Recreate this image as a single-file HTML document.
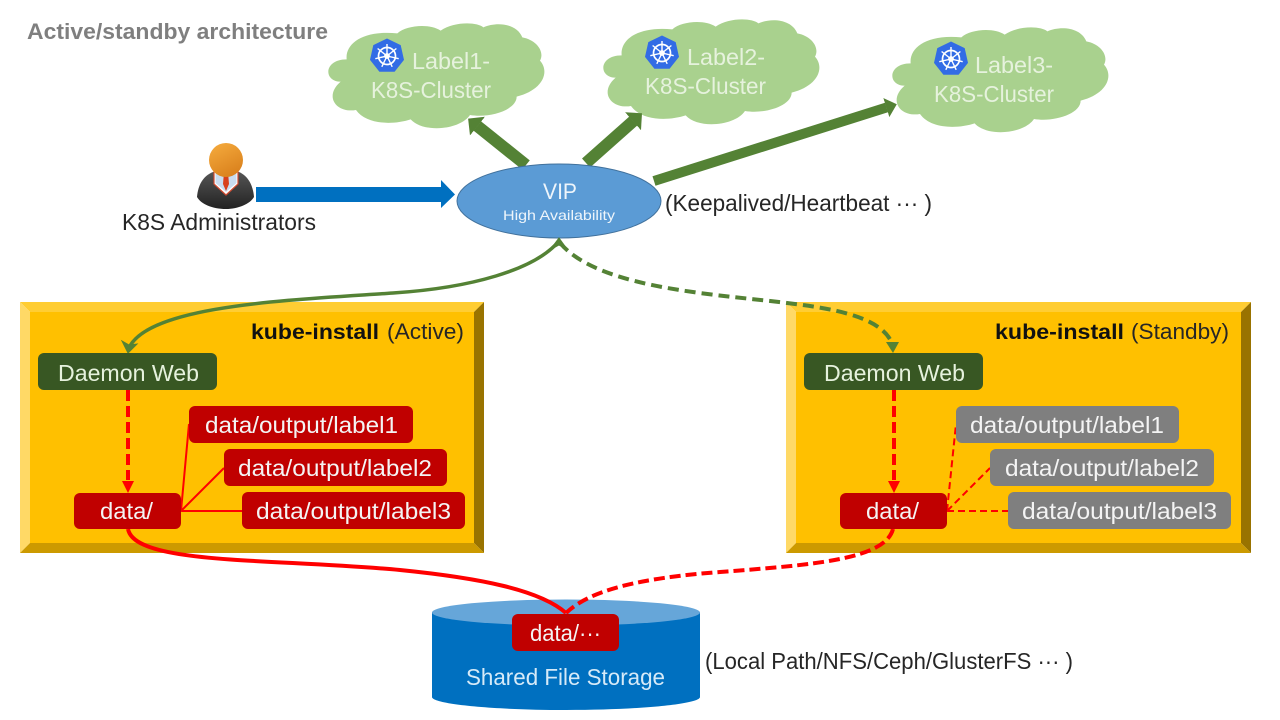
<!DOCTYPE html>
<html><head><meta charset="utf-8"><style>
html,body{margin:0;padding:0;background:#fff;width:1280px;height:720px;overflow:hidden}
svg{display:block}
text{font-family:"Liberation Sans","Noto Sans CJK SC",sans-serif;font-size:23px}
.w{fill:#f4f4f4}
.c{fill:#e6f2dd}
.k{fill:#262626}
</style></head><body>
<svg width="1280" height="720" viewBox="0 0 1280 720" xmlns="http://www.w3.org/2000/svg">
<defs>
<linearGradient id="hg" x1="0.2" y1="0" x2="0.7" y2="1"><stop offset="0" stop-color="#f4a93c"/><stop offset="1" stop-color="#d9801c"/></linearGradient>
<linearGradient id="bg" x1="0" y1="0" x2="0" y2="1"><stop offset="0" stop-color="#555"/><stop offset="1" stop-color="#222"/></linearGradient>
<marker id="gh" viewBox="0 0 2 2" markerWidth="2" markerHeight="2" refX="0.02" refY="1" orient="auto"><path d="M0,0L1,1L0,2Z" fill="#548235"/></marker>
<marker id="gh3" viewBox="0 0 2 2" markerWidth="2" markerHeight="2" refX="0.02" refY="1" orient="auto"><path d="M0,0L1.1,1L0,2Z" fill="#548235"/></marker>
<g id="cloud"><path transform="translate(320,0) scale(.3333)" fill="#a9d18e" d="M62,245C10,245 10,178 80,178C75,130 130,90 232,100C260,75 330,70 362,92C400,65 470,65 490,82C530,65 590,70 607,112C650,120 675,155 660,182C690,215 670,270 590,290C590,330 510,355 450,345C420,390 310,400 272,358C220,375 140,375 108,330C50,340 10,290 62,245Z"/></g>
<g id="k8s">
<polygon points="0,-17.500 13.700,-10.900 17,3.900 7.600,15.800 -7.600,15.800 -17,3.900 -13.700,-10.900" fill="#326ce5"/>
<g stroke="#fff" fill="none"><circle r="8.500" stroke-width="1.700"/><circle r="2.200" stroke-width="1.400"/>
<path stroke-width="1.400" d="M0,0L0,-12M0,0L9.400,-7.500M0,0L11.700,2.700M0,0L5.200,10.800M0,0L-5.200,10.800M0,0L-11.700,2.700M0,0L-9.400,-7.500"/></g>
</g>
</defs>

<text x="27" y="39" fill="#7f7f7f" font-weight="bold" style="font-size:22px" textLength="301" lengthAdjust="spacingAndGlyphs">Active/standby architecture</text>

<!-- clouds -->
<use href="#cloud"/>
<use href="#cloud" transform="translate(275,-4)"/>
<use href="#cloud" transform="translate(564,4)"/>
<use href="#k8s" transform="translate(387,56)"/>
<use href="#k8s" transform="translate(662,53)"/>
<use href="#k8s" transform="translate(951,59)"/>
<text class="c" x="412" y="69" textLength="78" lengthAdjust="spacingAndGlyphs">Label1-</text>
<text class="c" x="371" y="98" textLength="120" lengthAdjust="spacingAndGlyphs">K8S-Cluster</text>
<text class="c" x="687" y="65" textLength="78" lengthAdjust="spacingAndGlyphs">Label2-</text>
<text class="c" x="645" y="94" textLength="121" lengthAdjust="spacingAndGlyphs">K8S-Cluster</text>
<text class="c" x="975" y="73" textLength="78" lengthAdjust="spacingAndGlyphs">Label3-</text>
<text class="c" x="934" y="102" textLength="120" lengthAdjust="spacingAndGlyphs">K8S-Cluster</text>

<!-- green thick arrows -->
<line x1="526" y1="165" x2="477.300" y2="126" stroke="#548235" stroke-width="12" marker-end="url(#gh)"/>
<line x1="586" y1="163" x2="633.200" y2="121.100" stroke="#548235" stroke-width="12" marker-end="url(#gh)"/>
<line x1="654" y1="181" x2="886.500" y2="107.500" stroke="#548235" stroke-width="10" marker-end="url(#gh3)"/>

<!-- person -->
<path d="M197,197C198,185 203,176 213,172H239C248,176 253,185 254,197C250,204 238,209 226,209C212,209 201,204 197,197Z" fill="url(#bg)"/>
<path d="M214,168L238,168L238,184L226,195L214,184Z" fill="#fff" stroke="#d04a30" stroke-width="1.200"/>
<path d="M215.500,168L236.500,168L236.500,183L226,192L215.500,183Z" fill="#c9dcf0"/>
<path d="M224,172H228L229,184L226,191L223,184Z" fill="#d8401c"/>
<circle cx="226" cy="160" r="17" fill="url(#hg)"/>
<text class="k" x="122" y="230" textLength="194" lengthAdjust="spacingAndGlyphs">K8S Administrators</text>

<!-- blue arrow -->
<polygon points="256,187 441,187 441,180 455,194.500 441,208 441,202 256,202" fill="#0070c0"/>

<!-- VIP -->
<ellipse cx="559" cy="201" rx="102" ry="37" fill="#5b9bd5" stroke="#41719c" stroke-width="1"/>
<text x="543" y="199" fill="#eef5fb" style="font-size:22px" textLength="34" lengthAdjust="spacingAndGlyphs">VIP</text>
<text x="503" y="220" fill="#eef5fb" style="font-size:14px" textLength="112" lengthAdjust="spacingAndGlyphs">High Availability</text>
<text class="k" x="665" y="211" textLength="267" lengthAdjust="spacingAndGlyphs">(Keepalived/Heartbeat ··· )</text>

<!-- left box -->
<polygon points="20,302 484,302 474,312 30,312" fill="#ffcd33"/>
<polygon points="20,302 30,312 30,543 20,553" fill="#ffd966"/>
<polygon points="484,302 484,553 474,543 474,312" fill="#997300"/>
<polygon points="20,553 30,543 474,543 484,553" fill="#cc9a00"/>
<rect x="30" y="312" width="444" height="231" fill="#ffc000"/>

<!-- right box -->
<polygon points="786,302 1251,302 1241,312 796,312" fill="#ffcd33"/>
<polygon points="786,302 796,312 796,543 786,553" fill="#ffd966"/>
<polygon points="1251,302 1251,553 1241,543 1241,312" fill="#997300"/>
<polygon points="786,553 796,543 1241,543 1251,553" fill="#cc9a00"/>
<rect x="796" y="312" width="445" height="231" fill="#ffc000"/>

<text x="251" y="339" fill="#111" font-weight="bold" style="font-size:21px" textLength="128" lengthAdjust="spacingAndGlyphs">kube-install</text>
<text class="k" x="387" y="339" style="font-size:22px" textLength="77" lengthAdjust="spacingAndGlyphs">(Active)</text>
<text x="995" y="339" fill="#111" font-weight="bold" style="font-size:21px" textLength="129" lengthAdjust="spacingAndGlyphs">kube-install</text>
<text class="k" x="1131" y="339" style="font-size:22px" textLength="98" lengthAdjust="spacingAndGlyphs">(Standby)</text>

<!-- cylinder -->
<path d="M432,612V697C432,704 492,710 566,710C640,710 700,704 700,697V612Z" fill="#0070c0"/>
<ellipse cx="566" cy="612.500" rx="134" ry="13" fill="#66a6d9"/>

<!-- left inner connectors -->
<path d="M128,390V480" stroke="#f00" stroke-width="4" stroke-dasharray="11,5" fill="none"/>
<polygon points="122,481 134,481 128,493" fill="#f00"/>
<path d="M181,511L189,424M181,511L224,468M181,511H242" stroke="#f00" stroke-width="2" fill="none"/>
<!-- right inner connectors -->
<path d="M894,390V480" stroke="#f00" stroke-width="4" stroke-dasharray="11,5" fill="none"/>
<polygon points="888,481 900,481 894,493" fill="#f00"/>
<path d="M947,511L956,424M947,511L990,468M947,511H1008" stroke="#f00" stroke-width="2" stroke-dasharray="7,4" fill="none"/>

<!-- long curves -->
<path d="M559,241C535,270 470,288 393,293C290,300 145,305 128,350" stroke="#548235" stroke-width="3.500" fill="none"/>
<path d="M559,238L567,249L559,245L550,250Z" fill="#548235" stroke="#548235"/>
<path d="M128,353L122,341L129,345L137,344Z" fill="#548235" stroke="#548235"/>
<path d="M560,243C585,272 640,285 700,293C790,305 875,305 892,343" stroke="#548235" stroke-width="4" stroke-dasharray="11,6" fill="none"/>
<polygon points="886,342 899,342 893,353" fill="#548235"/>
<path d="M128,529C135,565 270,558 400,570C480,578 540,590 566,613" stroke="#f00" stroke-width="4" fill="none"/>
<path d="M893,529C885,560 810,565 720,572C640,578 590,590 566,613" stroke="#f00" stroke-width="4" stroke-dasharray="11,5" fill="none"/>

<!-- nodes -->
<g fill="#385723">
<rect x="38" y="353" width="179" height="37" rx="6"/>
<rect x="804" y="353" width="179" height="37" rx="6"/>
</g>
<g fill="#c00000">
<rect x="74" y="493" width="107" height="36" rx="6"/>
<rect x="189" y="406" width="224" height="37" rx="6"/>
<rect x="224" y="449" width="223" height="37" rx="6"/>
<rect x="242" y="492" width="223" height="37" rx="6"/>
<rect x="840" y="493" width="107" height="36" rx="6"/>
<rect x="512" y="614" width="107" height="37" rx="6"/>
</g>
<g fill="#7f7f7f">
<rect x="956" y="406" width="223" height="37" rx="6"/>
<rect x="990" y="449" width="224" height="37" rx="6"/>
<rect x="1008" y="492" width="223" height="37" rx="6"/>
</g>

<text class="c" x="58" y="381" textLength="141" lengthAdjust="spacingAndGlyphs">Daemon Web</text>
<text class="c" x="824" y="381" textLength="141" lengthAdjust="spacingAndGlyphs">Daemon Web</text>
<text class="w" x="100" y="519" textLength="53" lengthAdjust="spacingAndGlyphs">data/</text>
<text class="w" x="866" y="519" textLength="53" lengthAdjust="spacingAndGlyphs">data/</text>
<text class="w" x="205" y="433" textLength="193" lengthAdjust="spacingAndGlyphs">data/output/label1</text>
<text class="w" x="238" y="476" textLength="194" lengthAdjust="spacingAndGlyphs">data/output/label2</text>
<text class="w" x="256" y="519" textLength="195" lengthAdjust="spacingAndGlyphs">data/output/label3</text>
<text class="w" x="970" y="433" textLength="194" lengthAdjust="spacingAndGlyphs">data/output/label1</text>
<text class="w" x="1005" y="476" textLength="194" lengthAdjust="spacingAndGlyphs">data/output/label2</text>
<text class="w" x="1022" y="519" textLength="195" lengthAdjust="spacingAndGlyphs">data/output/label3</text>
<text class="w" x="530" y="641" textLength="71" lengthAdjust="spacingAndGlyphs">data/···</text>
<text x="466" y="685" fill="#d6eaf8" textLength="199" lengthAdjust="spacingAndGlyphs">Shared File Storage</text>
<text class="k" x="705" y="669" textLength="368" lengthAdjust="spacingAndGlyphs">(Local Path/NFS/Ceph/GlusterFS ··· )</text>
</svg>
</body></html>
